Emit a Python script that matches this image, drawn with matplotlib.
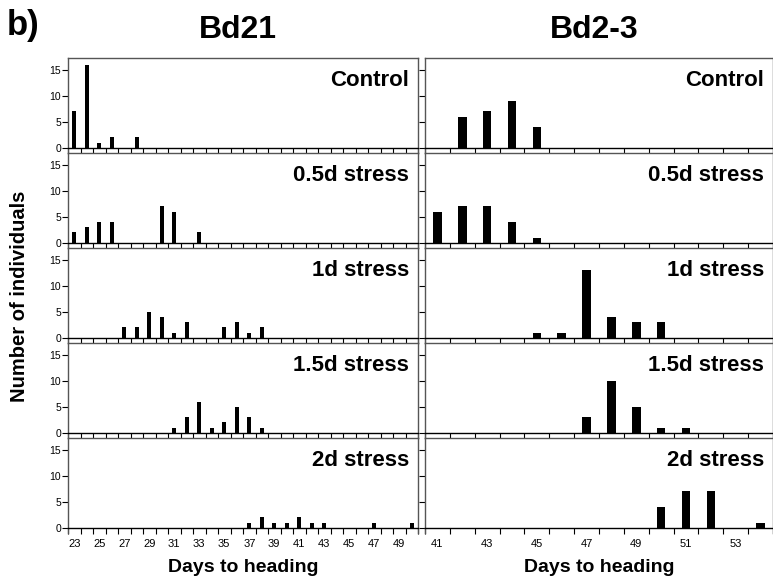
import numpy as np
import matplotlib
matplotlib.use('Agg')
import matplotlib.pyplot as plt

# global font settings
plt.rcParams['font.family'] = 'sans-serif'
plt.rcParams['font.sans-serif'] = ['Liberation Sans', 'DejaVu Sans']

# treatments (rows)
treatments = ['Control', '0.5d stress', '1d stress', '1.5d stress', '2d stress']

# Bd21: days to heading -> number of individuals
bd21_days = [
    [23, 24, 25, 26, 28],
    [23, 24, 25, 26, 30, 31, 33],
    [27, 28, 29, 30, 31, 32, 35, 36, 37, 38],
    [31, 32, 33, 34, 35, 36, 37, 38],
    [37, 38, 39, 40, 41, 42, 43, 47, 50],
]
bd21_counts = [
    [7, 16, 1, 2, 2],
    [2, 3, 4, 4, 7, 6, 2],
    [2, 2, 5, 4, 1, 3, 2, 3, 1, 2],
    [1, 3, 6, 1, 2, 5, 3, 1],
    [1, 2, 1, 1, 2, 1, 1, 1, 1],
]

# Bd2-3
bd23_days = [
    [42, 43, 44, 45],
    [41, 42, 43, 44, 45],
    [45, 46, 47, 48, 49, 50],
    [47, 48, 49, 50, 51],
    [50, 51, 52, 54],
]
bd23_counts = [
    [6, 7, 9, 4],
    [6, 7, 7, 4, 1],
    [1, 1, 13, 4, 3, 3],
    [3, 10, 5, 1, 1],
    [4, 7, 7, 1],
]

bd21_range = (23, 50)
bd23_range = (41, 54)
y_ticks = [0, 5, 10, 15]

W, H = 773, 580
fig = plt.figure(figsize=(W / 100, H / 100), dpi=100)

# axes positions in pixels
col_x = [(68, 418), (425, 773)]
row_top = 58
row_h = 95

columns = [
    ('Bd21', bd21_days, bd21_counts, bd21_range),
    ('Bd2-3', bd23_days, bd23_counts, bd23_range),
]

frame_color = '#555555'

for c, (name, days_all, counts_all, (d0, d1)) in enumerate(columns):
    x0, x1 = col_x[c]
    for r in range(5):
        top = row_top + r * row_h
        ax = fig.add_axes([x0 / W, 1 - (top + row_h) / H, (x1 - x0) / W, row_h / H])
        ax.bar(days_all[r], counts_all[r], width=0.35, color='black', zorder=3)
        ax.set_xlim(d0 - 0.5, d1 + 0.5)
        ax.set_ylim(-1, 17.3)

        for s in ['top', 'left', 'right']:
            ax.spines[s].set_color(frame_color)
            ax.spines[s].set_linewidth(1.0)
        ax.spines['bottom'].set_position(('data', 0))
        ax.spines['bottom'].set_color('black')
        ax.spines['bottom'].set_linewidth(1.0)

        # y ticks
        ax.set_yticks(y_ticks)
        ax.tick_params(axis='y', direction='out', length=4, width=0.8,
                       labelsize=7.5, pad=1, colors='black')
        if c == 1:
            ax.set_yticklabels([])

        # x ticks: marks at category boundaries, labels at odd days
        ax.set_xticks(np.arange(d0 - 0.5, d1 + 1.0, 1.0), minor=True)
        ax.tick_params(axis='x', which='minor', direction='out', length=4, width=0.8)
        labelled = list(range(d0, d1 + 1, 2))
        ax.set_xticks(labelled)
        ax.tick_params(axis='x', which='major', length=0, labelsize=8, pad=8)
        if r < 4:
            ax.set_xticklabels([])
        else:
            ax.set_xticklabels([str(d) for d in labelled])

        ax.text(0.975, 0.76, treatments[r], transform=ax.transAxes,
                ha='right', va='center', fontsize=16, fontweight='bold')

    # column title and x label
    xc = (x0 + x1) / 2 / W
    fig.text(xc - 0.006, 1 - 30 / H, name, ha='center', va='center',
             fontsize=23, fontweight='bold')
    fig.text(xc, 1 - 567 / H, 'Days to heading', ha='center', va='center',
             fontsize=14, fontweight='bold')

fig.text(7 / W, 1 - 26 / H, 'b)', ha='left', va='center', fontsize=25, fontweight='bold')
fig.text(20 / W, 1 - 296 / H, 'Number of individuals', rotation=90,
         ha='center', va='center', fontsize=14.5, fontweight='bold')

plt.savefig('out.png', dpi=100)
